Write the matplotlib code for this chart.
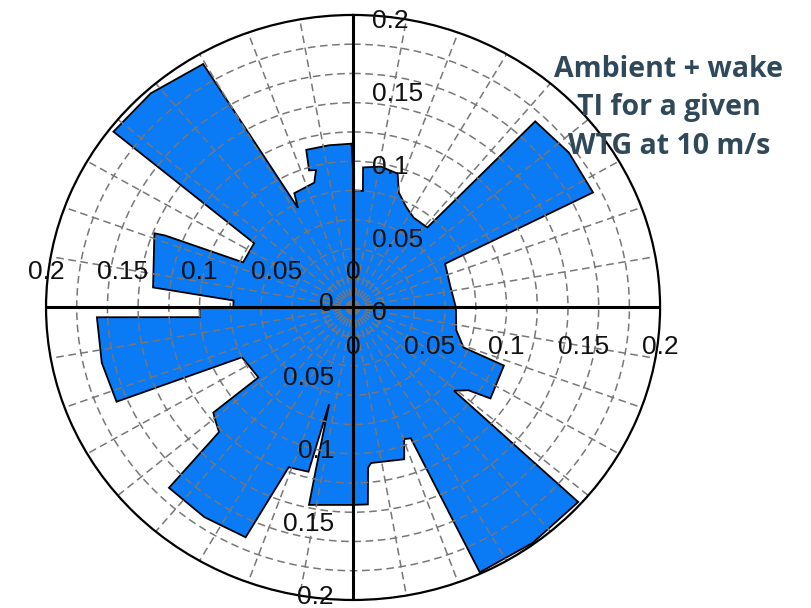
import numpy as np
import matplotlib.pyplot as plt

direction = [0.5, 4.6, 3.9, 10.7, 17.6, 20.8, 26.7, 32.7, 41.5,
             43.0, 53.0, 63.3, 63.5, 77.0, 90.0,
             103.0, 110.8, 112.0, 124.8, 127.0, 130.9,
             132.2, 144.0, 155.5, 157.2, 159.7, 162.2, 173.7, 174.9, 175.9, 180.0,
             192.0, 192.3, 193.3, 194.5, 201.0,
             204.0, 214.0, 224.2, 225.7, 229.7, 231.7, 232.2, 244.8,
             247.3, 257.0, 267.7, 266.2, 269.9, 270.1, 273.5,
             276.0, 291.4, 291.9, 293.3, 304.3,
             307.6, 318.0, 329.6, 332.2, 333.9, 343.5, 345.6, 343.0, 344.2, 352.0, 359.5]
ti = [0.080, 0.080, 0.096, 0.098, 0.096, 0.084, 0.077, 0.073, 0.073,
      0.174, 0.176, 0.175, 0.067, 0.065, 0.067,
      0.069, 0.077, 0.106, 0.109, 0.094, 0.087,
      0.198, 0.199, 0.199, 0.097, 0.096, 0.109, 0.107, 0.110, 0.135, 0.135,
      0.138, 0.116, 0.068, 0.116, 0.117,
      0.172, 0.173, 0.172, 0.122, 0.118, 0.116, 0.078, 0.080,
      0.167, 0.168, 0.167, 0.100, 0.100, 0.078, 0.078,
      0.131, 0.139, 0.132, 0.078, 0.078,
      0.197, 0.197, 0.193, 0.077, 0.087, 0.089, 0.097, 0.098, 0.112, 0.112, 0.112]

tick_vals = [0, 0.05, 0.1, 0.15, 0.2]
tick_labels = ['0', '0.05', '0.1', '0.15', '0.2']
r_max = 0.2

fig = plt.figure(figsize=(8.12, 6.08), dpi=100)
ax = fig.add_axes([0.0567, 0.0132, 0.7562, 0.9622], projection='polar')
ax.set_aspect('auto')
ax.set_theta_zero_location('N')
ax.set_theta_direction(-1)
ax.set_rlim(0, r_max)

# dashed grid, drawn over the filled rose
ax.set_rgrids(np.arange(0.02, 0.2, 0.02), labels=[''] * 9)
ax.set_thetagrids(np.arange(0, 360, 10), labels=[''] * 36)
ax.grid(True, color='#777777', linestyle=(0, (5, 3)), linewidth=1.1)
ax.spines['polar'].set_color('black')
ax.spines['polar'].set_linewidth(1.6)

theta = np.radians(direction)
ax.fill(theta, ti, facecolor='#0A7AF5', edgecolor='black', linewidth=1.3, zorder=1)

# black cross through the centre
for d in [0, 90, 180, 270]:
    ax.plot([np.radians(d)] * 2, [0, r_max], color='black', linewidth=2.2, zorder=3)

# radial labels along the four axes
lab = dict(fontsize=19, family='Liberation Sans', color='#111111', zorder=4,
           textcoords='offset pixels', annotation_clip=False)
for v, t in zip(tick_vals, tick_labels):
    ax.annotate(t, xy=(np.radians(90), v), xytext=(0, -40), ha='center', va='center', **lab)
    ax.annotate(t, xy=(np.radians(270), v), xytext=(0, 35), ha='center', va='center', **lab)
    ax.annotate(t, xy=(0, v), xytext=(19, -6), ha='left', va='center', **lab)
    ax.annotate(t, xy=(np.pi, v), xytext=(-19, 3), ha='right', va='center', **lab)

fig.text(669 / 812, 1 - 108 / 608, 'Ambient + wake\nTI for a given\nWTG at 10 m/s',
         ha='center', va='center', fontsize=20.5, fontweight='bold', family='Open Sans',
         color='#30495A', linespacing=1.45)

fig.savefig('out.png', dpi=100)
